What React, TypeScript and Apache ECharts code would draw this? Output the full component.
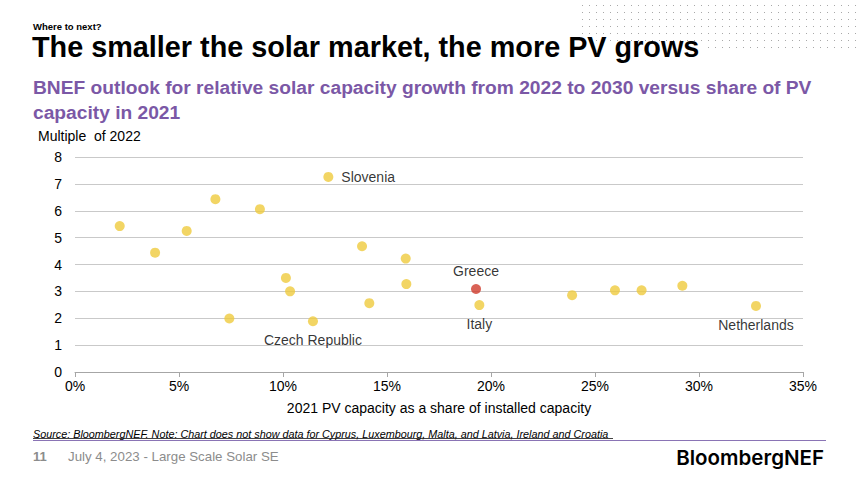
import React, { useEffect, useRef } from "react";
import * as echarts from "echarts";

// Data: [2021 PV share (%), multiple of 2022]
const countryNames = [
  "", "", "", "", "", "", "", "", "Czech Republic", "Slovenia", "", "", "", "",
  "Greece", "Italy", "", "", "", "", "Netherlands",
];
const pvShare = [
  2.15, 3.85, 5.37, 6.75, 7.42, 8.89, 10.14, 10.34, 11.44, 12.18, 13.8, 14.15, 15.9, 15.93,
  19.28, 19.44, 23.9, 25.96, 27.24, 29.2, 32.74,
];
const growthMultiple = [
  5.43, 4.44, 5.25, 6.43, 1.99, 6.06, 3.5, 3.0, 1.89, 7.26, 4.68, 2.56, 4.22, 3.27,
  3.09, 2.49, 2.86, 3.04, 3.04, 3.21, 2.46,
];
const xTickValues = [0, 5, 10, 15, 20, 25, 30, 35];
const yTickValues = [0, 1, 2, 3, 4, 5, 6, 7, 8];

const YELLOW = "#EFCB3D";
const RED = "#CF3B2C";
const PURPLE = "#7B58A6";
const FONT = "Liberation Sans, Arial, sans-serif";

const labelPos: Record<string, any> = {
  "Czech Republic": { position: "bottom", distance: 7 },
  Slovenia: { position: "right", distance: 8 },
  Greece: { position: "top", distance: 6 },
  Italy: { position: "bottom", distance: 7 },
  Netherlands: { position: "bottom", distance: 7 },
};

function buildDots() {
  const els: any[] = [];
  const rows = [5, 12, 19, 26, 33, 40];
  rows.forEach((y) => {
    for (let x = 582; x <= 856; x += 7) {
      els.push({ type: "rect", shape: { x, y, width: 1, height: 1 }, style: { fill: "#a8a8a8" }, silent: true });
    }
  });
  for (let x = 708; x <= 856; x += 7) {
    els.push({ type: "rect", shape: { x, y: 47, width: 1, height: 1 }, style: { fill: "#a8a8a8" }, silent: true });
  }
  return els;
}

export default function App() {
  const ref = useRef<HTMLDivElement>(null);
  useEffect(() => {
    if (!ref.current) return;
    const chart = echarts.init(ref.current, null, { renderer: "svg" });
    const data = pvShare.map((x, i) => {
      const name = countryNames[i];
      const isGreece = name === "Greece";
      const item: any = {
        value: [x, growthMultiple[i]],
        name,
        itemStyle: { color: isGreece ? RED : YELLOW },
      };
      if (name) {
        item.label = {
          show: true,
          formatter: name,
          color: "#000",
          fontSize: 14,
          fontFamily: FONT,
          ...labelPos[name],
        };
      }
      return item;
    });
    chart.setOption({
      animation: false,
      backgroundColor: "#ffffff",
      grid: { left: 75, right: 55, top: 157, bottom: 112, containLabel: false },
      xAxis: {
        type: "value",
        min: 0,
        max: 35,
        interval: 5,
        name: "2021 PV capacity as a share of installed capacity",
        nameLocation: "middle",
        nameGap: 29,
        nameTextStyle: { color: "#000", fontSize: 14, fontFamily: FONT },
        axisLine: { show: true, lineStyle: { color: "#a6a6a6", width: 1 } },
        axisTick: { show: true, length: 5, lineStyle: { color: "#a6a6a6" } },
        axisLabel: {
          color: "#000",
          fontSize: 14,
          fontFamily: FONT,
          margin: 7,
          formatter: (v: number) => (xTickValues.includes(v) ? v + "%" : ""),
        },
        splitLine: { show: false },
      },
      yAxis: {
        type: "value",
        min: 0,
        max: 8,
        interval: 1,
        axisLine: { show: false },
        axisTick: { show: false },
        axisLabel: {
          color: "#000",
          fontSize: 14,
          fontFamily: FONT,
          margin: 13,
          formatter: (v: number) => (yTickValues.includes(v) ? String(v) : ""),
        },
        splitLine: { show: true, lineStyle: { color: "#c9c9c9", width: 1 } },
      },
      series: [
        {
          type: "scatter",
          symbol: "circle",
          symbolSize: 10,
          data,
          z: 5,
        },
      ],
      graphic: [
        ...buildDots(),
        {
          type: "text",
          left: 33,
          top: 21,
          style: { text: "Where to next?", fontSize: 9.5, fontWeight: "bold", fill: "#000", fontFamily: FONT },
        },
        {
          type: "text",
          left: 32,
          top: 32,
          style: {
            text: "The smaller the solar market, the more PV grows",
            fontSize: 28.8,
            fontWeight: "bold",
            fill: "#000",
            fontFamily: FONT,
          },
        },
        {
          type: "text",
          left: 33,
          top: 75,
          style: {
            text: "BNEF outlook for relative solar capacity growth from 2022 to 2030 versus share of PV\ncapacity in 2021",
            fontSize: 19.2,
            lineHeight: 25,
            fontWeight: "bold",
            fill: PURPLE,
            fontFamily: FONT,
          },
        },
        {
          type: "text",
          left: 38,
          top: 129,
          style: { text: "Multiple  of 2022", fontSize: 14, fill: "#000", fontFamily: FONT },
        },
        {
          type: "text",
          left: 33,
          top: 428,
          style: {
            text: "Source: BloombergNEF. Note: Chart does not show data for Cyprus, Luxembourg, Malta, and Latvia, Ireland and Croatia",
            fontSize: 10.8,
            fontStyle: "italic",
            fill: "#000",
            fontFamily: FONT,
          },
        },
        {
          type: "line",
          shape: { x1: 33, y1: 438.5, x2: 613, y2: 438.5 },
          style: { stroke: "#111", lineWidth: 0.8 },
        },
        {
          type: "line",
          shape: { x1: 33, y1: 440.5, x2: 826, y2: 440.5 },
          style: { stroke: "#8a74b5", lineWidth: 1 },
        },
        {
          type: "text",
          left: 33,
          top: 450,
          style: { text: "11", fontSize: 13, fontWeight: "bold", fill: "#8c8c8c", fontFamily: FONT },
        },
        {
          type: "text",
          left: 68,
          top: 450,
          style: { text: "July 4, 2023 - Large Scale Solar SE", fontSize: 13.3, fill: "#8c8c8c", fontFamily: FONT },
        },
        {
          type: "text",
          right: 34,
          top: 447,
          style: { text: "BloombergNEF", fontSize: 20.5, fontWeight: 600, fill: "#000", fontFamily: "Inter, Liberation Sans, sans-serif" },
        },
      ],
    });
    return () => chart.dispose();
  }, []);
  return (
    <div
      ref={ref}
      style={{ width: 858, height: 484, position: "absolute", left: 0, top: 0, background: "#fff" }}
    />
  );
}
